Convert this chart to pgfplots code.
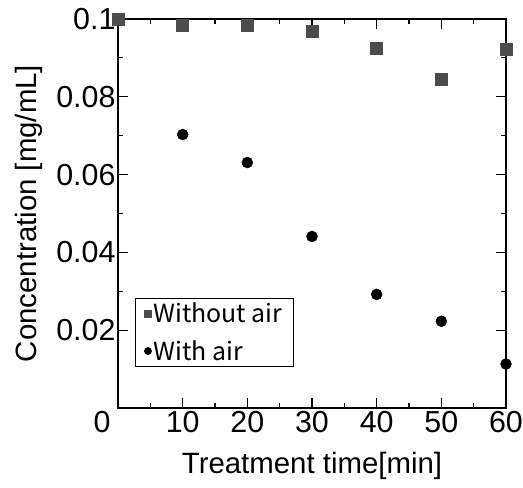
\documentclass[border=0pt]{standalone}
\usepackage{pgfplots}
\pgfplotsset{compat=1.18}
\usepackage{fontspec}
\setmainfont{Liberation Sans}
\newfontfamily\legfont{Noto Sans CJK JP}

\pgfplotstableread{
t c
0 0.1
10 0.0985
20 0.0985
30 0.0969
40 0.0926
50 0.0844
60 0.0923
}\withoutair

\pgfplotstableread{
t c
0 0.1
10 0.0703
20 0.0631
30 0.0441
40 0.0292
50 0.0223
60 0.0113
}\withair

\begin{document}
\begin{tikzpicture}
\begin{axis}[
  scale only axis, width=388bp, height=389bp,
  xmin=0, xmax=60, ymin=0, ymax=0.1,
  xtick={0,10,...,60},
  xticklabels={\makebox[0pt]{\hspace*{-32bp}0},10,20,30,40,50,60},
  ytick={0.02,0.04,0.06,0.08,0.1},
  yticklabels={0.02,0.04,0.06,0.08,0.1},
  minor x tick num=1, minor y tick num=1,
  tick align=inside, major tick length=10bp, minor tick length=5bp,
  tick style={black, line width=1.1pt},
  axis line style={line width=1.3pt},
  font=\fontsize{29.5}{33}\selectfont,
  tick label style={font=\fontsize{30.5}{34}\selectfont},
  xlabel={Treatment time[min]}, ylabel={Concentration [mg/mL]},
  xlabel style={yshift=-12bp}, ylabel style={yshift=7bp},
  xticklabel style={yshift=0bp}, yticklabel style={xshift=1bp},
  clip=false,
  reverse legend,
  legend style={at={(rel axis cs:0.044,0.105)}, anchor=south west,
    draw=black, line width=0.8pt, font=\legfont\fontsize{25}{29}\selectfont,
    row sep=12bp, inner xsep=9bp, inner ysep=3bp,
    /tikz/every even column/.append style={column sep=9bp}},
  legend cell align=left,
  legend image post style={mark size=3.5bp},
]
\addplot[only marks, mark=*, mark size=5.5bp, black] table[x=t, y=c] {\withair};
\addplot[only marks, mark=square*, mark size=6bp, fill=black!70, draw=black!70] table[x=t, y=c] {\withoutair};
\legend{With air, Without air}
\coordinate (o) at (rel axis cs:0,0);
\end{axis}
\pgfresetboundingbox
\path (o) ++(-118bp,-80bp) rectangle ++(523bp,488bp);
\end{tikzpicture}
\end{document}
